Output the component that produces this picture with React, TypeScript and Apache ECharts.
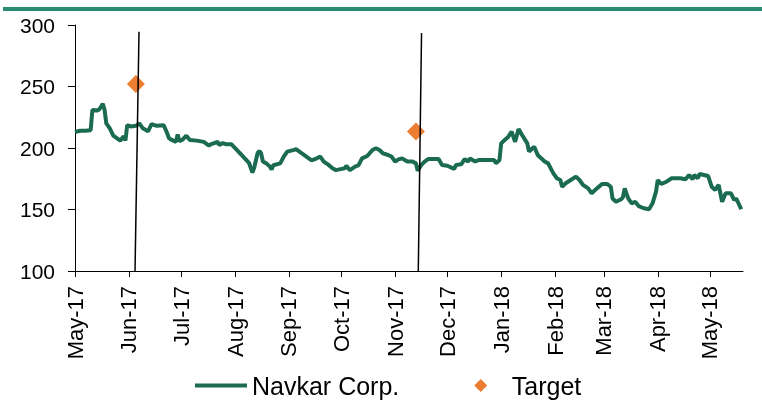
import React, { useEffect, useRef } from "react";
import * as echarts from "echarts";

const priceDates: string[] = [
  "2017-05-01","2017-05-04","2017-05-07","2017-05-10","2017-05-11","2017-05-14","2017-05-15","2017-05-17","2017-05-18","2017-05-19",
  "2017-05-21","2017-05-22","2017-05-23","2017-05-25","2017-05-27","2017-05-29","2017-05-30","2017-05-31","2017-06-02","2017-06-05",
  "2017-06-07","2017-06-09","2017-06-12","2017-06-14","2017-06-17","2017-06-21","2017-06-23","2017-06-24","2017-06-25","2017-06-28",
  "2017-06-29","2017-06-30","2017-07-02","2017-07-04","2017-07-06","2017-07-10","2017-07-14","2017-07-17","2017-07-18","2017-07-20",
  "2017-07-22","2017-07-23","2017-07-25","2017-07-27","2017-07-30","2017-08-02","2017-08-05","2017-08-07","2017-08-09","2017-08-11",
  "2017-08-12","2017-08-14","2017-08-15","2017-08-16","2017-08-17","2017-08-19","2017-08-21","2017-08-22","2017-08-23","2017-08-27",
  "2017-08-29","2017-08-31","2017-09-04","2017-09-05","2017-09-07","2017-09-11","2017-09-14","2017-09-17","2017-09-19","2017-09-21",
  "2017-09-24","2017-09-26","2017-09-28","2017-09-30","2017-10-03","2017-10-04","2017-10-06","2017-10-09","2017-10-11","2017-10-13",
  "2017-10-16","2017-10-19","2017-10-21","2017-10-23","2017-10-25","2017-10-28","2017-10-30","2017-11-01","2017-11-03","2017-11-05",
  "2017-11-08","2017-11-11","2017-11-13","2017-11-14","2017-11-16","2017-11-18","2017-11-20","2017-11-23","2017-11-26","2017-11-28",
  "2017-12-01","2017-12-05","2017-12-06","2017-12-09","2017-12-11","2017-12-13","2017-12-14","2017-12-17","2017-12-19","2017-12-24",
  "2017-12-28","2017-12-29","2017-12-31","2018-01-01","2018-01-03","2018-01-05","2018-01-07","2018-01-09","2018-01-11","2018-01-13",
  "2018-01-16","2018-01-17","2018-01-19","2018-01-20","2018-01-22","2018-01-24","2018-01-26","2018-01-28","2018-01-30","2018-01-31",
  "2018-02-02","2018-02-04","2018-02-05","2018-02-07","2018-02-10","2018-02-13","2018-02-15","2018-02-17","2018-02-20","2018-02-22",
  "2018-02-25","2018-02-28","2018-03-03","2018-03-05","2018-03-06","2018-03-08","2018-03-11","2018-03-12","2018-03-13","2018-03-15",
  "2018-03-17","2018-03-19","2018-03-21","2018-03-24","2018-03-27","2018-03-29","2018-03-31","2018-04-01","2018-04-03","2018-04-06",
  "2018-04-09","2018-04-14","2018-04-17","2018-04-19","2018-04-21","2018-04-22","2018-04-24","2018-04-25","2018-04-30","2018-05-02",
  "2018-05-04","2018-05-06","2018-05-08","2018-05-10","2018-05-13","2018-05-15","2018-05-16","2018-05-17","2018-05-19"
];

const priceValues: number[] = [
  213,214,214,214.5,231,230.5,231.5,236,231,220,
  216,213,210,208,206,209.5,206,218.5,217.5,218,
  220,216,213.5,219.5,218,218.5,212,208,207,205,
  211,205.5,207,210,206.5,206,205,202,203,204,
  205,202.5,204,203,203,198.5,194,191,188,180,
  184,196,197.5,195.7,189,187.5,185,182.5,186,187.5,
  193,197,198.5,199,197,193,190,191.6,193,189,
  186,183.5,182,182.6,183.5,185.5,182,184.8,186,191.6,
  193.5,198.4,199.8,198.4,195.7,194.3,193,189,190.8,191.6,
  189,189,187.5,181.5,186,189,191,191,191,186.2,
  185.6,183,186.2,186.7,191,189,191.6,189,190.2,190.2,
  190.2,187.5,190.2,203.8,206.5,209,213.3,205,215.5,210.6,
  203.8,197,199.8,201,194.3,191.6,189,187.5,182,179.4,
  175.4,174,168.5,171.3,174,176.7,174,170,167.2,163.2,
  167.2,170.7,170.7,168.5,159,156.3,158.3,160,167.2,159,
  155,156.3,152.8,151,150.2,155,164.5,174,170.7,172.6,
  175.4,175.4,174.6,178,174.6,178,175.4,178.9,177.2,168.5,
  165.9,169.9,156.3,163.2,163.2,157.7,159,156.3,150.2
];

const targetDates: string[] = ["2017-06-05", "2017-11-13"];
const targetValues: number[] = [252, 213.5];

const markerLine1: [string, number][] = [["2017-06-04 12:00", 100], ["2017-06-06 19:00", 294.5]];
const markerLine2: [string, number][] = [["2017-11-14 08:00", 100], ["2017-11-16 05:00", 293.5]];

const monthNames = ["Jan","Feb","Mar","Apr","May","Jun","Jul","Aug","Sep","Oct","Nov","Dec"];
const yTicks = { min: 100, max: 300, interval: 50 };

export default function App() {
  const ref = useRef<HTMLDivElement>(null);
  useEffect(() => {
    if (!ref.current) return;
    const chart = echarts.init(ref.current, null, { renderer: "svg" });
    const font = "'Liberation Sans', Arial, sans-serif";
    const lineData = priceDates.map((d, i) => [d, priceValues[i]]);
    const targetData = targetDates.map((d, i) => [d, targetValues[i]]);
    const day = 86400000;
    chart.setOption({
      animation: false,
      textStyle: { fontFamily: font },
      graphic: [
        { type: "rect", shape: { x: 3, y: 7, width: 762, height: 4 }, style: { fill: "#2A8C72" } },
      ],
      grid: { left: 75, top: 25, width: 668, height: 246, containLabel: false },
      legend: {
        data: [
          { name: "Navkar Corp.", icon: "path://M0 0h52v4H0z" },
          { name: "Target", icon: "path://M6 0L12 6L6 12L0 6Z" },
        ],
        left: 190,
        top: 368,
        itemWidth: 52,
        itemHeight: 13,
        itemGap: 75,
        textStyle: { fontSize: 25, color: "#000", fontFamily: font },
      },
      xAxis: {
        type: "time",
        min: "2017-05-01",
        max: "2018-05-20",
        splitNumber: 13,
        minInterval: 28 * day,
        maxInterval: 31 * day,
        axisLine: { lineStyle: { color: "#000", width: 1 } },
        axisTick: { show: true, length: 6, lineStyle: { color: "#000" } },
        splitLine: { show: false },
        axisLabel: {
          rotate: 90,
          margin: 15,
          fontSize: 22,
          color: "#000",
          fontFamily: font,
          hideOverlap: false,
          formatter: (v: number) => {
            const d = new Date(v);
            return monthNames[d.getMonth()] + "-" + String(d.getFullYear()).slice(2);
          },
        },
      },
      yAxis: {
        type: "value",
        min: yTicks.min,
        max: yTicks.max,
        interval: yTicks.interval,
        axisLine: { show: true, lineStyle: { color: "#000", width: 1 } },
        axisTick: { show: true, length: 7, lineStyle: { color: "#000" } },
        splitLine: { show: false },
        axisLabel: { fontSize: 21, color: "#000", margin: 20, fontFamily: font },
      },
      series: [
        {
          name: "Navkar Corp.",
          type: "line",
          data: lineData,
          symbol: "none",
          showSymbol: false,
          lineStyle: { color: "#1B6B53", width: 4 },
          itemStyle: { color: "#1B6B53" },
          z: 2,
        },
        {
          name: "Target",
          type: "scatter",
          data: targetData,
          symbol: "diamond",
          symbolSize: 18,
          itemStyle: { color: "#ED7D31", opacity: 1 },
          z: 3,
        },
        {
          name: "v1",
          type: "line",
          data: markerLine1,
          symbol: "none",
          lineStyle: { color: "#000", width: 1.5 },
          z: 5,
        },
        {
          name: "v2",
          type: "line",
          data: markerLine2,
          symbol: "none",
          lineStyle: { color: "#000", width: 1.5 },
          z: 5,
        },
      ],
    });
    return () => chart.dispose();
  }, []);
  return <div ref={ref} style={{ position: "fixed", left: 0, top: 0, width: 762, height: 401 }} />;
}
